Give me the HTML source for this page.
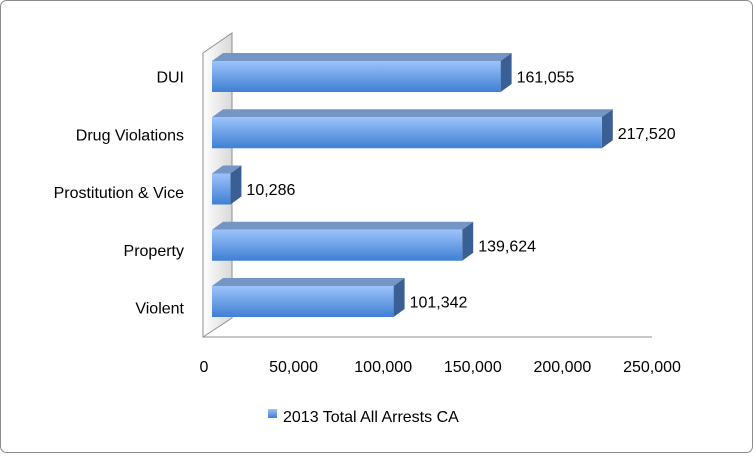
<!DOCTYPE html>
<html><head><meta charset="utf-8"><style>
body{margin:0;background:#fff}
svg text{font-family:"Liberation Sans",sans-serif;font-size:16px;fill:#000}
</style></head><body>
<svg width="753" height="453" viewBox="0 0 753 453">
<defs>
<linearGradient id="gf" x1="0" y1="0" x2="0" y2="1"><stop offset="0" stop-color="#9cc3fb"/><stop offset="1" stop-color="#3f7fd3"/></linearGradient>
<linearGradient id="gw" x1="0" y1="0" x2="1" y2="0"><stop offset="0" stop-color="#fff"/><stop offset="1" stop-color="#d8d8d8"/></linearGradient>
</defs>
<rect x="0.5" y="0.5" width="752" height="452" rx="6" fill="#fff" stroke="#8c8c8c"/>
<polygon points="203,53 232,33 232,318 203,337" fill="url(#gw)" stroke="#8f8f8f"/>
<line x1="203" y1="337" x2="652" y2="337" stroke="#8f8f8f"/>
<g id="bars"></g><g id="ticks"></g>
<rect x="268" y="409" width="9" height="9" fill="url(#gf)"/>
<text x="283" y="422">2013 Total All Arrests CA</text>
</svg>
<script>
const categories=["DUI","Drug Violations","Prostitution & Vice","Property","Violent"];
const values=[161055,217520,10286,139624,101342];
const valueLabels=["161,055","217,520","10,286","139,624","101,342"];
const tickValues=[0,50000,100000,150000,200000,250000];
const tickLabels=["0","50,000","100,000","150,000","200,000","250,000"];
const NS="http://www.w3.org/2000/svg";
const xs=v=>v/250000*448;
const rowY=i=>61+i*56.25;
function mk(t,a,p){const e=document.createElementNS(NS,t);for(const k in a)e.setAttribute(k,a[k]);p.appendChild(e);return e;}
const bg=document.getElementById('bars');
categories.forEach((c,i)=>{
 const x0=212,w=xs(values[i]),y=rowY(i),h=31,dx=11,dy=8;
 const top=mk('polygon',{points:`${x0},${y} ${x0+dx},${y-dy} ${x0+w+dx},${y-dy} ${x0+w},${y}`,fill:'#7596c4'},bg);
 
 
 const side=mk('polygon',{points:`${x0+w},${y} ${x0+w+dx},${y-dy} ${x0+w+dx},${y+h-dy} ${x0+w},${y+h}`,fill:'#3a5f95'},bg);
 
 
 const r=mk('rect',{x:x0,y:y,width:w,height:h,fill:'url(#gf)'},bg);
 
 
 const vl=mk('text',{x:x0+w+dx+5,y:y+h/2+6},bg);vl.textContent=valueLabels[i];
 
 
 const cl=mk('text',{x:184,y:y+h/2+6+i*1.5,'text-anchor':'end'},bg);cl.textContent=categories[i];
 
 
});
const tg=document.getElementById('ticks');
tickValues.forEach((v,i)=>{
 const t=mk('text',{x:204+xs(v),y:372,'text-anchor':'middle'},tg);t.textContent=tickLabels[i];
 
 
});
</script>
</body></html>
